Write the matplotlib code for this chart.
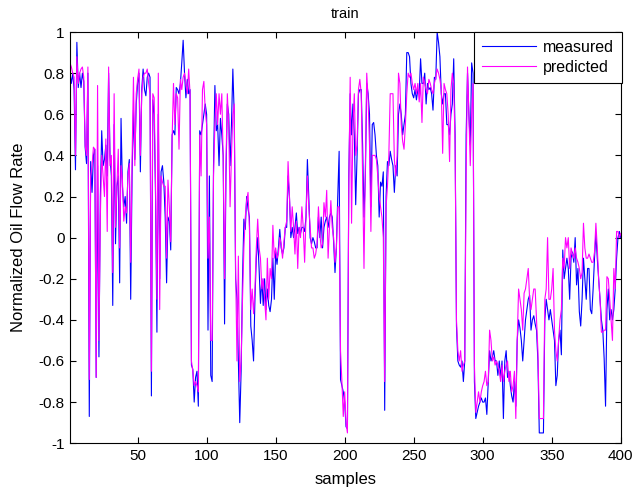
import numpy as np
import matplotlib
matplotlib.use("Agg")
import matplotlib.pyplot as plt

plt.rcParams["font.family"] = ["Liberation Sans", "DejaVu Sans"]

# values, samples 1..400
measured = [
    0.80, 0.75, 0.80, 0.72, 0.33, 0.95, 0.73, 0.80, 0.73, 0.80,
    0.76, 0.44, 0.36, 0.80, -0.87, 0.37, 0.22, 0.40, 0.43, -0.68,
    0.35, -0.58, 0.20, 0.52, 0.35, 0.38, 0.45, 0.30, 0.80, 0.40,
    0.30, -0.33, 0.55, -0.03, 0.25, 0.30, -0.22, 0.58, 0.25, 0.15,
    0.20, 0.07, 0.32, 0.38, -0.30, 0.30, 0.62, 0.38, 0.65, 0.75,
    0.80, 0.32, 0.72, 0.82, 0.72, 0.69, 0.78, 0.80, 0.78, -0.77,
    0.67, 0.60, 0.20, -0.46, 0.60, -0.20, 0.32, 0.35, 0.27, 0.10,
    -0.22, 0.10, 0.08, -0.06, 0.50, 0.52, 0.50, 0.73, 0.72, 0.70,
    0.75, 0.85, 0.96, 0.80, 0.68, 0.77, 0.70, 0.72, -0.62, -0.64,
    -0.80, -0.68, -0.65, -0.82, 0.52, 0.50, 0.55, 0.60, 0.65, 0.60,
    -0.45, 0.30, -0.67, -0.70, 0.35, 0.74, 0.52, 0.55, 0.35, 0.58,
    0.50, 0.40, -0.42, 0.30, 0.65, 0.60, 0.35, 0.55, 0.82, 0.60,
    -0.20, -0.30, -0.60, -0.90, -0.65, -0.20, 0.09, 0.04, 0.20, 0.14,
    0.10, -0.43, -0.50, -0.60, -0.30, -0.10, 0.00, -0.15, -0.32, -0.20,
    -0.33, -0.20, -0.35, -0.25, -0.33, -0.36, -0.30, -0.10, -0.30, -0.07,
    -0.13, -0.05, 0.04, -0.05, -0.08, -0.05, 0.05, 0.05, 0.30, 0.20,
    0.00, 0.05, 0.00, 0.05, 0.12, 0.02, 0.05, 0.02, 0.05, 0.05,
    0.03, 0.10, 0.38, 0.20, 0.00, -0.03, 0.00, -0.02, -0.05, -0.05,
    0.10, 0.00, 0.10, -0.05, 0.05, 0.08, 0.10, 0.05, 0.10, 0.12,
    0.10, -0.02, -0.17, -0.05, 0.20, 0.42, -0.69, -0.72, -0.75, -0.80,
    -0.92, -0.93, 0.30, 0.70, 0.50, 0.65, 0.50, 0.16, 0.40, 0.70,
    0.72, 0.72, 0.45, 0.10, 0.30, 0.75, 0.70, 0.60, 0.15, 0.55,
    0.56, 0.50, 0.40, 0.35, 0.10, 0.27, 0.25, 0.32, -0.84, 0.20,
    0.37, 0.35, 0.42, 0.38, 0.35, 0.22, 0.35, 0.30, 0.60, 0.65,
    0.60, 0.50, 0.55, 0.60, 0.90, 0.90, 0.88, 0.75, 0.70, 0.68,
    0.72, 0.67, 0.72, 0.70, 0.87, 0.75, 0.75, 0.80, 0.65, 0.75,
    0.72, 0.73, 0.70, 0.62, 0.78, 0.77, 1.00, 0.95, 0.88, 0.70,
    0.65, 0.70, 0.70, 0.55, 0.55, 0.50, 0.60, 0.65, 0.87, 0.50,
    -0.43, -0.60, -0.62, -0.63, -0.60, -0.70, -0.60, 0.50, 0.80, 0.60,
    0.45, 0.85, 0.80, -0.70, -0.88, -0.85, -0.82, -0.80, -0.78, -0.80,
    -0.80, -0.78, -0.86, -0.70, -0.55, -0.60, -0.58, -0.55, -0.60, -0.60,
    -0.67, -0.60, -0.68, -0.60, -0.88, -0.60, -0.55, -0.68, -0.65, -0.72,
    -0.77, -0.80, -0.70, -0.82, -0.50, -0.40, -0.44, -0.50, -0.60, -0.50,
    -0.40, -0.35, -0.30, -0.28, -0.45, -0.40, -0.38, -0.42, -0.45, -0.60,
    -0.95, -0.95, -0.95, -0.95, -0.40, -0.30, -0.35, -0.40, -0.35, -0.40,
    -0.45, -0.50, -0.72, -0.67, -0.50, -0.45, -0.57, -0.06, -0.20, -0.15,
    -0.10, -0.15, -0.30, -0.10, -0.07, -0.12, 0.00, -0.23, -0.15, -0.36,
    -0.43, -0.30, -0.10, -0.20, -0.30, -0.15, -0.15, -0.35, -0.37, -0.25,
    -0.10, 0.02, -0.10, -0.20, -0.30, -0.40, -0.45, -0.59, -0.82, -0.35,
    -0.25, -0.40, -0.35, -0.40, -0.35, -0.25, -0.10, 0.00, 0.03, 0.00,
]

predicted = [
    0.85, 0.83, 0.80, 0.78, 0.40, 0.88, 0.75, 0.80, 0.82, 0.83,
    0.78, 0.45, 0.40, 0.83, -0.69, 0.30, 0.35, 0.44, 0.43, -0.68,
    0.74, -0.50, 0.10, 0.40, 0.30, 0.20, 0.48, 0.03, 0.83, 0.35,
    0.40, -0.17, 0.70, 0.05, 0.25, 0.43, -0.05, 0.35, 0.28, 0.08,
    0.15, 0.12, 0.30, 0.36, -0.12, 0.38, 0.78, 0.35, 0.70, 0.77,
    0.82, 0.40, 0.70, 0.78, 0.80, 0.80, 0.82, 0.75, 0.70, -0.65,
    0.70, 0.68, 0.25, -0.30, 0.80, -0.35, 0.30, 0.27, 0.25, 0.25,
    -0.10, 0.28, 0.15, -0.02, 0.48, 0.75, 0.55, 0.70, 0.68, 0.43,
    0.77, 0.72, 0.78, 0.80, 0.75, 0.70, 0.82, 0.70, -0.60, -0.65,
    -0.72, -0.70, -0.72, -0.75, 0.50, 0.30, 0.72, 0.76, 0.62, 0.55,
    -0.10, 0.10, -0.50, -0.50, 0.30, 0.55, 0.70, 0.55, 0.70, 0.60,
    0.70, 0.38, -0.20, 0.35, 0.70, 0.55, 0.15, 0.40, 0.60, 0.65,
    -0.15, -0.60, -0.09, -0.70, -0.60, -0.30, -0.05, 0.10, 0.18, 0.22,
    0.05, -0.35, -0.25, -0.37, -0.25, -0.05, 0.09, -0.05, -0.10, -0.25,
    -0.20, -0.30, -0.40, -0.10, -0.30, -0.15, -0.20, 0.06, -0.10, -0.05,
    -0.10, -0.08, 0.00, -0.03, -0.10, -0.02, 0.05, 0.08, 0.37, 0.20,
    0.03, 0.15, 0.05, -0.08, 0.08, -0.15, 0.05, 0.00, 0.15, 0.05,
    -0.12, 0.10, 0.30, 0.15, 0.05, -0.05, -0.05, -0.10, -0.08, -0.03,
    0.15, 0.02, -0.05, -0.03, 0.17, 0.10, 0.23, -0.10, 0.05, 0.18,
    0.05, 0.00, -0.12, -0.05, 0.15, 0.15, -0.55, -0.70, -0.87, -0.75,
    -0.90, -0.95, 0.25, 0.78, 0.07, 0.55, 0.70, 0.40, 0.45, 0.72,
    0.77, 0.70, 0.30, -0.15, 0.35, 0.80, 0.67, 0.45, 0.03, 0.40,
    0.40, 0.40, 0.38, 0.30, 0.20, 0.15, 0.10, 0.00, -0.70, 0.15,
    0.25, 0.40, 0.70, 0.70, 0.70, 0.38, 0.30, 0.40, 0.80, 0.75,
    0.55, 0.47, 0.43, 0.55, 0.70, 0.80, 0.78, 0.80, 0.75, 0.72,
    0.75, 0.70, 0.75, 0.66, 0.75, 0.56, 0.78, 0.75, 0.72, 0.70,
    0.77, 0.75, 0.72, 0.70, 0.75, 0.78, 0.82, 0.80, 0.77, 0.72,
    0.41, 0.75, 0.72, 0.70, 0.60, 0.37, 0.72, 0.80, 0.75, 0.45,
    -0.40, -0.55, -0.60, -0.55, -0.65, -0.62, -0.60, 0.30, 0.83, 0.60,
    0.35, 0.60, 0.75, -0.62, -0.85, -0.80, -0.75, -0.80, -0.75, -0.72,
    -0.70, -0.65, -0.72, -0.70, -0.45, -0.50, -0.60, -0.58, -0.62, -0.60,
    -0.62, -0.65, -0.70, -0.62, -0.70, -0.65, -0.62, -0.60, -0.70, -0.65,
    -0.75, -0.72, -0.65, -0.88, -0.50, -0.25, -0.30, -0.35, -0.45, -0.27,
    -0.25, -0.20, -0.15, -0.30, -0.35, -0.30, -0.25, -0.25, -0.40, -0.55,
    -0.88, -0.88, -0.88, -0.88, -0.30, -0.25, 0.00, -0.30, -0.30, -0.25,
    -0.15, -0.45, -0.55, -0.60, -0.50, -0.40, -0.35, -0.10, -0.15, 0.00,
    -0.05, 0.00, -0.15, -0.05, -0.08, -0.10, -0.05, -0.10, -0.12, -0.15,
    -0.20, -0.17, 0.07, -0.05, -0.10, -0.10, -0.08, -0.10, -0.12, -0.12,
    -0.07, 0.07, -0.05, -0.20, -0.30, -0.46, -0.46, -0.45, -0.45, -0.19,
    -0.20, -0.30, -0.40, -0.50, -0.15, -0.25, 0.03, 0.03, 0.00, 0.02,
]

samples = np.arange(1, len(measured) + 1)
xticks = [50, 100, 150, 200, 250, 300, 350, 400]
yticks = [-1, -0.8, -0.6, -0.4, -0.2, 0, 0.2, 0.4, 0.6, 0.8, 1]
ytick_labels = ["-1", "-0.8", "-0.6", "-0.4", "-0.2", "0", "0.2", "0.4", "0.6", "0.8", "1"]

fig = plt.figure(figsize=(6.36, 4.93), dpi=100)
ax = fig.add_axes([0.110, 0.101, 0.866, 0.834])

ax.plot(samples, measured, color="#0000ff", lw=0.8, label="measured")
ax.plot(samples, predicted, color="#ff00ff", lw=0.8, label="predicted")

ax.set_xlim(1, 400)
ax.set_ylim(-1, 1)
ax.set_xticks(xticks)
ax.set_yticks(yticks)
ax.set_yticklabels(ytick_labels)
ax.tick_params(direction="in", top=True, right=True, labelsize=11, length=4, pad=4)
for s in ax.spines.values():
    s.set_linewidth(0.8)

ax.set_title("train", fontsize=10.5, pad=10)
ax.set_xlabel("samples", fontsize=12, labelpad=7)
ax.set_ylabel("Normalized Oil Flow Rate", fontsize=12, labelpad=9)

leg = ax.legend(loc="upper right", bbox_to_anchor=(1.003, 1.0), borderaxespad=0,
                fancybox=False, edgecolor="black", framealpha=1, fontsize=11.5,
                handlelength=3.4, handletextpad=0.45, borderpad=0.5,
                labelspacing=0.3)
leg.get_frame().set_linewidth(0.8)

fig.savefig("out.png", dpi=100)
